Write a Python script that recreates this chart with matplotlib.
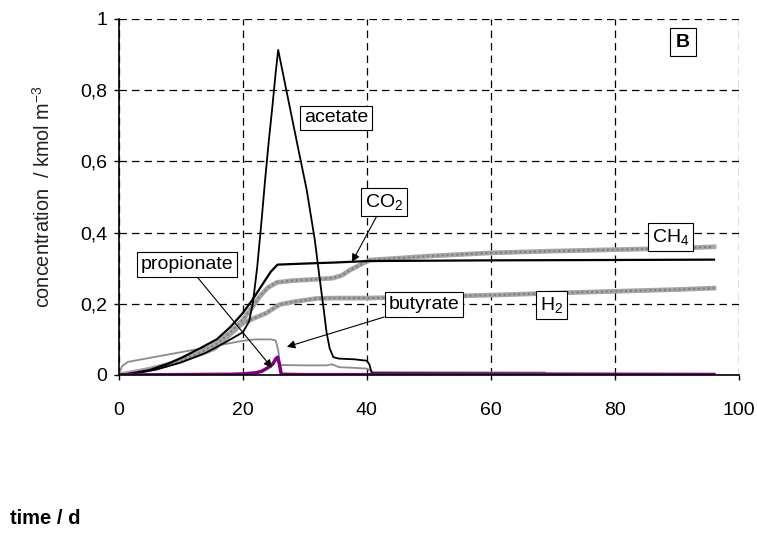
import matplotlib
matplotlib.use('Agg')
import matplotlib.pyplot as plt
from matplotlib.ticker import FuncFormatter

plt.rcParams['font.family'] = ['Liberation Sans', 'DejaVu Sans']
plt.rcParams['mathtext.fontset'] = 'custom'
plt.rcParams['mathtext.rm'] = 'Liberation Sans'
plt.rcParams['mathtext.it'] = 'Liberation Sans:italic'

# data (time in days, concentration in kmol/m3)
acetate_t = [0, 3, 6, 10, 14, 17, 20, 21, 21.6, 22.3, 23, 23.6, 24.2, 24.8, 25.3, 25.7,
             26.2, 27.6, 29, 30.3, 31.6, 32.4, 33, 33.5, 34, 34.6, 35.5, 38, 40, 40.4, 40.8, 96]
acetate = [0, 0.006, 0.015, 0.035, 0.062, 0.09, 0.12, 0.15, 0.2, 0.3, 0.43, 0.55, 0.66, 0.76, 0.85, 0.913,
           0.87, 0.75, 0.63, 0.52, 0.38, 0.27, 0.19, 0.12, 0.075, 0.05, 0.046, 0.044, 0.04, 0.03, 0.005, 0.003]

co2_t = [0, 2, 5, 8, 10.3, 13, 15.8, 18, 20, 21.5, 23, 24.5, 25.6, 30, 35, 40, 50, 60, 80, 96]
co2 = [0, 0.004, 0.014, 0.032, 0.05, 0.074, 0.1, 0.135, 0.174, 0.21, 0.25, 0.29, 0.31,
       0.313, 0.316, 0.32, 0.321, 0.322, 0.323, 0.324]

ch4_t = [0, 2, 5, 7.7, 10, 13, 16, 18, 20, 21.5, 22.7, 24, 25.5, 28, 31, 34.5, 36, 37.3, 39,
         40.5, 45, 50, 60, 70, 80, 90, 96]
ch4 = [0, 0.006, 0.016, 0.028, 0.04, 0.062, 0.09, 0.12, 0.155, 0.19, 0.22, 0.245, 0.26, 0.265,
       0.268, 0.272, 0.28, 0.295, 0.31, 0.323, 0.328, 0.334, 0.343, 0.348, 0.352, 0.356, 0.36]

h2_t = [0, 2, 5, 8, 10, 13, 15.5, 18.7, 20, 21.9, 23.8, 25.2, 26, 28, 31.9, 35, 40, 50, 61.5,
        70, 80, 90, 96]
h2 = [0, 0.006, 0.016, 0.03, 0.04, 0.058, 0.075, 0.126, 0.146, 0.16, 0.174, 0.19, 0.198, 0.205,
      0.215, 0.216, 0.216, 0.22, 0.225, 0.23, 0.235, 0.24, 0.244]

butyrate_t = [0, 0.5, 1.5, 5, 10, 15, 20, 22, 24.5, 25.3, 25.7, 26, 30, 33.5, 34.4, 35.5, 38,
              40, 41, 68.7, 69, 96]
butyrate = [0, 0.025, 0.037, 0.048, 0.064, 0.08, 0.096, 0.1, 0.1, 0.097, 0.07, 0.028, 0.027,
            0.027, 0.03, 0.022, 0.02, 0.018, 0.008, 0.007, 0.004, 0.004]

propionate_t = [0, 18, 20, 22, 23, 24, 24.8, 25.3, 25.6, 25.9, 26.2, 30, 96]
propionate = [0, 0.002, 0.003, 0.006, 0.01, 0.02, 0.03, 0.045, 0.05, 0.03, 0.002, 0.001, 0.001]

x_ticks = [0, 20, 40, 60, 80, 100]
y_ticks = [0, 0.2, 0.4, 0.6, 0.8, 1.0]

fig = plt.figure(figsize=(7.57, 5.36), dpi=100)
ax = fig.add_axes([0.157, 0.3004, 0.819, 0.6642])

ax.plot(butyrate_t, butyrate, color='#8c8c8c', lw=1.3)
# thick grey gas curves with a speckled look
for t, c in [(h2_t, h2), (ch4_t, ch4)]:
    ax.plot(t, c, color='#a6a6a6', lw=3.4)
    ax.plot(t, c, color='#7a7a7a', lw=1.4, linestyle=(0, (1, 1.5)))
ax.plot(co2_t, co2, color='black', lw=1.6)
ax.plot(acetate_t, acetate, color='black', lw=1.3)
ax.plot(propionate_t, propionate, color='#800080', lw=2.5)

ax.set_xlim(0, 100)
ax.set_ylim(0, 1)
ax.set_xticks(x_ticks)
ax.set_yticks(y_ticks)
ax.yaxis.set_major_formatter(FuncFormatter(lambda v, p: ('%g' % v).replace('.', ',')))
ax.tick_params(labelsize=14, direction='out', length=3.6, width=1)
ax.tick_params(axis='y', pad=5)
ax.tick_params(axis='x', pad=16)
ax.grid(True, color='black', linestyle=(0, (6, 4)), lw=0.9)
for s in ['top', 'right']:
    ax.spines[s].set_visible(False)
for s in ['left', 'bottom']:
    ax.spines[s].set_linewidth(1.2)

ax.set_ylabel('concentration  / kmol m$^{-3}$', fontsize=14.3, color='#222222')
ax.yaxis.set_label_coords(-0.105, 0.5)
fig.text(0.013, 0.0224, 'time / d', fontsize=14.5, fontweight='bold', va='baseline')

box = dict(boxstyle='square,pad=0.2', fc='white', ec='black', lw=0.8)
arrow = dict(arrowstyle='-|>', color='black', lw=0.8, mutation_scale=12, shrinkA=0, shrinkB=0)

ax.text(35.0, 0.722, 'acetate', fontsize=14, ha='center', va='center', bbox=box)
ax.annotate('CO$_2$', xy=(37.6, 0.317), xytext=(42.8, 0.485), fontsize=14, ha='center',
            va='center', bbox=box, arrowprops=arrow)
ax.text(89, 0.388, 'CH$_4$', fontsize=14, ha='center', va='center', bbox=box)
ax.text(69.8, 0.197, 'H$_2$', fontsize=14, ha='center', va='center', bbox=box)
ax.annotate('butyrate', xy=(27.1, 0.079), xytext=(49.2, 0.197), fontsize=14, ha='center',
            va='center', bbox=box, arrowprops=arrow)
ax.annotate('propionate', xy=(24.7, 0.02), xytext=(11, 0.31), fontsize=14, ha='center',
            va='center', bbox=box, arrowprops=arrow)
ax.text(91, 0.935, 'B', fontsize=14, fontweight='bold', ha='center', va='center',
        bbox=dict(boxstyle='square,pad=0.3', fc='white', ec='black', lw=0.8))

fig.savefig('out.png', dpi=100)
